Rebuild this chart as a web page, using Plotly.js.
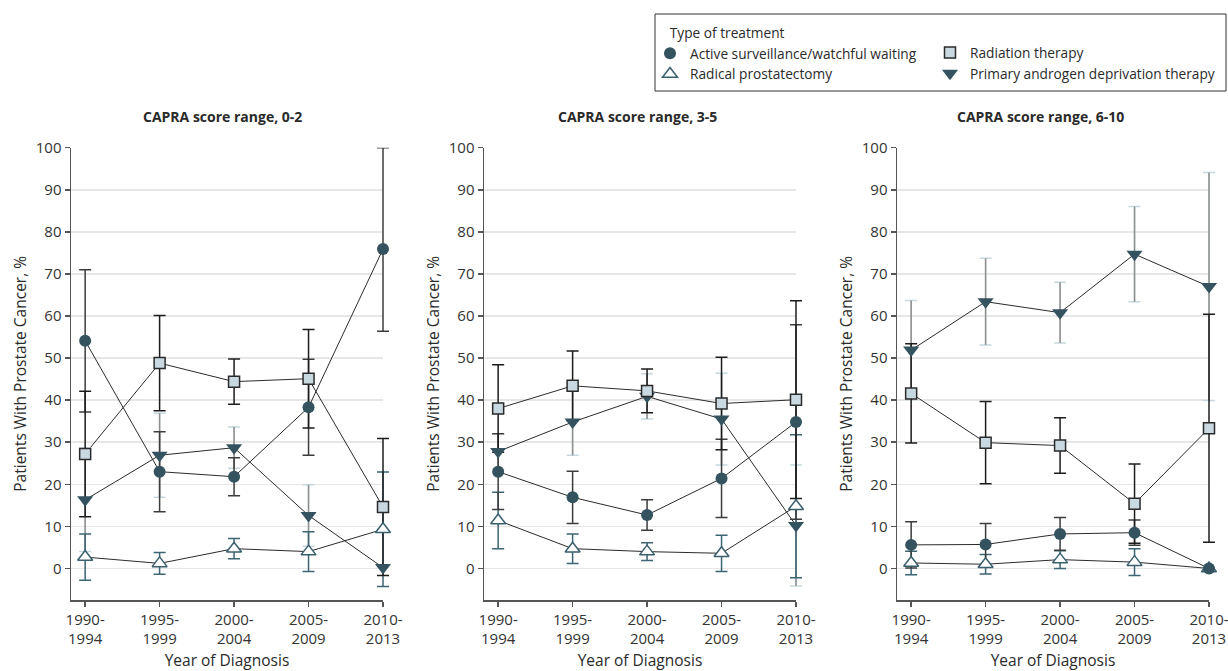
<!DOCTYPE html>
<html><head><meta charset="utf-8">
<script src="https://cdn.plot.ly/plotly-3.0.1.min.js"></script>
<style>html,body{margin:0;padding:0;background:#fff}#chart{width:1228px;height:671px}</style>
</head><body><div id="chart"></div>
<script>
// ---------- DATA ----------
const periods = ['1990-<br>1994','1995-<br>1999','2000-<br>2004','2005-<br>2009','2010-<br>2013'];
const panelTitles = ['CAPRA score range, 0-2','CAPRA score range, 3-5','CAPRA score range, 6-10'];
const treatments = ['Active surveillance/watchful waiting','Radiation therapy','Radical prostatectomy','Primary androgen deprivation therapy'];

// CAPRA 0-2
const as02 = [54.1, 23.0, 21.8, 38.3, 75.9];
const as02ErrPlus = [16.9, 9.5, 4.5, 11.4, 24.1];
const as02ErrMinus = [16.9, 9.5, 4.5, 11.4, 19.5];
const rt02 = [27.2, 48.8, 44.4, 45.1, 14.6];
const rt02Err = [14.9, 11.3, 5.4, 11.7, 16.3];
const rp02 = [2.7, 1.2, 4.7, 4.0, 9.3];
const rp02Err = [5.5, 2.6, 2.4, 4.7, 13.6];
const adt02 = [16.3, 26.9, 28.7, 12.6, 0.2];
const adt02Err = [12.3, 10.0, 4.9, 7.3, 0];

// CAPRA 3-5
const as35 = [23.0, 16.9, 12.7, 21.4, 34.8];
const as35Err = [9.0, 6.2, 3.6, 9.3, 23.1];
const rt35 = [38.0, 43.4, 42.2, 39.2, 40.1];
const rt35Err = [10.4, 8.3, 5.2, 11.0, 23.5];
const rp35 = [11.4, 4.7, 4.0, 3.6, 14.8];
const rp35Err = [6.7, 3.5, 2.1, 4.3, 17.0];
const adt35 = [27.8, 34.8, 40.9, 35.5, 10.2];
const adt35Err = [4.2, 7.9, 5.4, 10.9, 14.4];

// CAPRA 6-10
const as610 = [5.6, 5.7, 8.2, 8.5, 0];
const as610Err = [5.5, 5.0, 3.9, 3.0, 0];
const rt610 = [41.6, 29.9, 29.2, 15.4, 33.3];
const rt610Err = [11.8, 9.8, 6.6, 9.4, 27.1];
const rp610 = [1.3, 1.0, 2.1, 1.5, 0];
const rp610Err = [2.8, 2.3, 2.1, 3.2, 0];
const adt610 = [51.9, 63.4, 60.8, 74.7, 67.0];
const adt610Err = [11.8, 10.3, 7.2, 11.3, 27.1];

const yTicks = [0,10,20,30,40,50,60,70,80,90,100];

// ---------- BUILD ----------
const W = 1228, H = 671;
const FONT = 'Open Sans, Noto Sans, sans-serif';
const TXT = '#2a2a2a';
const panels = [
  {as: as02, asP: as02ErrPlus, asM: as02ErrMinus, rt: rt02, rtE: rt02Err, rp: rp02, rpE: rp02Err, adt: adt02, adtE: adt02Err},
  {as: as35, asP: as35Err, asM: as35Err, rt: rt35, rtE: rt35Err, rp: rp35, rpE: rp35Err, adt: adt35, adtE: adt35Err},
  {as: as610, asP: as610Err, asM: as610Err, rt: rt610, rtE: rt610Err, rp: rp610, rpE: rp610Err, adt: adt610, adtE: adt610Err}
];
const xPix = [[71,383],[484,796],[897,1209]];
const plotTop = 147.7, plotBot = 600;
const xLo = -0.19, xHi = 4, xExtra = 0.24;
const yRange = [-7.5, 100];

const traces = [];
const styles = [
  {key:'as', name: treatments[0], legend:'legend', rank:1,
   marker:{symbol:'circle', size:12, color:'#34535f', line:{width:0}}},
  {key:'rt', name: treatments[1], legend:'legend2', rank:1,
   marker:{symbol:'square', size:11, color:'#c9d9e1', line:{color:'#2a2a2a', width:1.5}}},
  {key:'rp', name: treatments[2], legend:'legend', rank:2,
   marker:{symbol:'triangle-up', size:13, color:'#ffffff', line:{color:'#3a5f6d', width:1.5}}},
  {key:'adt', name: treatments[3], legend:'legend2', rank:2,
   marker:{symbol:'triangle-down', size:14, color:'#34535f', line:{width:0}}}
];
function errTrace(k, y, plus, minus, color, w){
  const b = String(k+4);
  return {x: periods, y: y, type:'scatter', mode:'markers', xaxis:'x'+b, yaxis:'y'+b,
    marker:{size:1, opacity:0}, showlegend:false, hoverinfo:'skip', cliponaxis:false,
    error_y:{type:'data', symmetric:false, array: plus, arrayminus: minus, color: color, thickness:1.5, width: w}};
}
panels.forEach((p,k)=>{
  const a = k===0 ? '' : String(k+1);
  const b = String(k+4);
  const series = {as:[p.as,p.asP,p.asM], rt:[p.rt,p.rtE,p.rtE], rp:[p.rp,p.rpE,p.rpE], adt:[p.adt,p.adtE,p.adtE]};
  // connecting lines (subplot A)
  ['adt','rp','rt','as'].forEach(key=>{
    traces.push({x: periods, y: series[key][0], type:'scatter', mode:'lines', xaxis:'x'+a, yaxis:'y'+a,
      line:{color:'#2b2b2b', width:1}, showlegend:false, hoverinfo:'skip'});
  });
  // error bars (subplot B, so caps at the last period are not cut)
  traces.push(errTrace(k, p.adt, p.adtE, p.adtE, '#c6d7e0', 6));
  traces.push(errTrace(k, p.adt, p.adtE, p.adtE, '#8e8e8e', 0));
  traces.push(errTrace(k, p.rp, p.rpE, p.rpE, '#3d6473', 6));
  traces.push(errTrace(k, p.as, p.asP, p.asM, '#3c3c3c', 6));
  traces.push(errTrace(k, p.rt, p.rtE, p.rtE, '#1c1c1c', 6));
  // markers
  [3,2,1,0].forEach(i=>{
    const s = styles[i];
    traces.push({x: periods, y: series[s.key][0], type:'scatter', mode:'markers', xaxis:'x'+b, yaxis:'y'+b,
      name: s.name, legend: s.legend, legendrank: s.rank, showlegend: k===0, cliponaxis:false,
      marker: s.marker});
  });
});

const layout = {
  width: W, height: H, margin:{l:0,r:0,t:0,b:0}, paper_bgcolor:'#fff', plot_bgcolor:'rgba(0,0,0,0)',
  font:{family: FONT, size:14, color: TXT},
  showlegend:true,
  legend:{x:650/W, y:1-20/H, xanchor:'left', yanchor:'top', bgcolor:'rgba(0,0,0,0)', borderwidth:0,
    orientation:'v', traceorder:'normal', font:{size:13.7, color:TXT},
    title:{text:'&nbsp;&nbsp;&nbsp;&nbsp;&nbsp;Type of treatment', font:{size:13.7, color:TXT}}},
  legend2:{x:930/W, y:1-37/H, xanchor:'left', yanchor:'top', bgcolor:'rgba(0,0,0,0)', borderwidth:0,
    orientation:'v', traceorder:'normal', font:{size:13.7, color:TXT}},
  shapes:[{type:'rect', xref:'paper', yref:'paper', x0:655/W, x1:1226/W, y0:1-91/H, y1:1-14/H,
    line:{color:'#333', width:1}, fillcolor:'rgba(0,0,0,0)'}],
  annotations: []
};
const titleX = [222, 637, 1040];
panels.forEach((p,k)=>{
  const a = k===0 ? '' : String(k+1);
  const b = String(k+4);
  const x0 = xPix[k][0], x1 = xPix[k][1];
  const pxPerUnit = (x1 - x0) / (xHi - xLo);
  const bRight = x0 + pxPerUnit * (xHi + xExtra - xLo);
  const yDom = [1-plotBot/H, 1-plotTop/H];
  layout['xaxis'+a] = {domain:[x0/W, x1/W], anchor:'y'+a, type:'category',
    categoryorder:'array', categoryarray: periods, range:[xLo, xHi],
    showline:true, linecolor:'#555', linewidth:1.5, ticks:'outside', ticklen:5, tickwidth:1.5, tickcolor:'#555',
    showgrid:false, zeroline:false, tickfont:{size:15, color:'#333'},
    title:{text:'Year of Diagnosis', font:{size:15.5, color:TXT}, standoff:10}};
  layout['yaxis'+a] = {domain: yDom, anchor:'x'+a, range: yRange,
    tickvals: yTicks, showline:true, linecolor:'#555', linewidth:1.5, ticks:'outside', ticklen:5, tickwidth:1.5,
    tickcolor:'#555', showgrid:true, gridcolor:'#e6e6e6', gridwidth:1.5, zeroline:false,
    tickfont:{size:15, color:'#333'},
    title:{text:'Patients With Prostate Cancer, %', font:{size:15.5, color:TXT}, standoff:5}};
  layout['xaxis'+b] = {domain:[x0/W, Math.min(bRight/W, 1)], anchor:'y'+b, type:'category',
    categoryorder:'array', categoryarray: periods, range:[xLo, xHi + xExtra], visible:false, showgrid:false, zeroline:false};
  layout['yaxis'+b] = {domain: yDom, anchor:'x'+b, range: yRange, visible:false, showgrid:false, zeroline:false};
  layout.annotations.push({text:'<b>'+panelTitles[k]+'</b>', xref:'paper', yref:'paper',
    x: titleX[k]/W, y: 1-117/H, xanchor:'center', yanchor:'middle', showarrow:false,
    font:{size:14, color:TXT}});
});

Plotly.newPlot('chart', traces, layout, {displayModeBar:false, staticPlot:true});
</script>
</body></html>
